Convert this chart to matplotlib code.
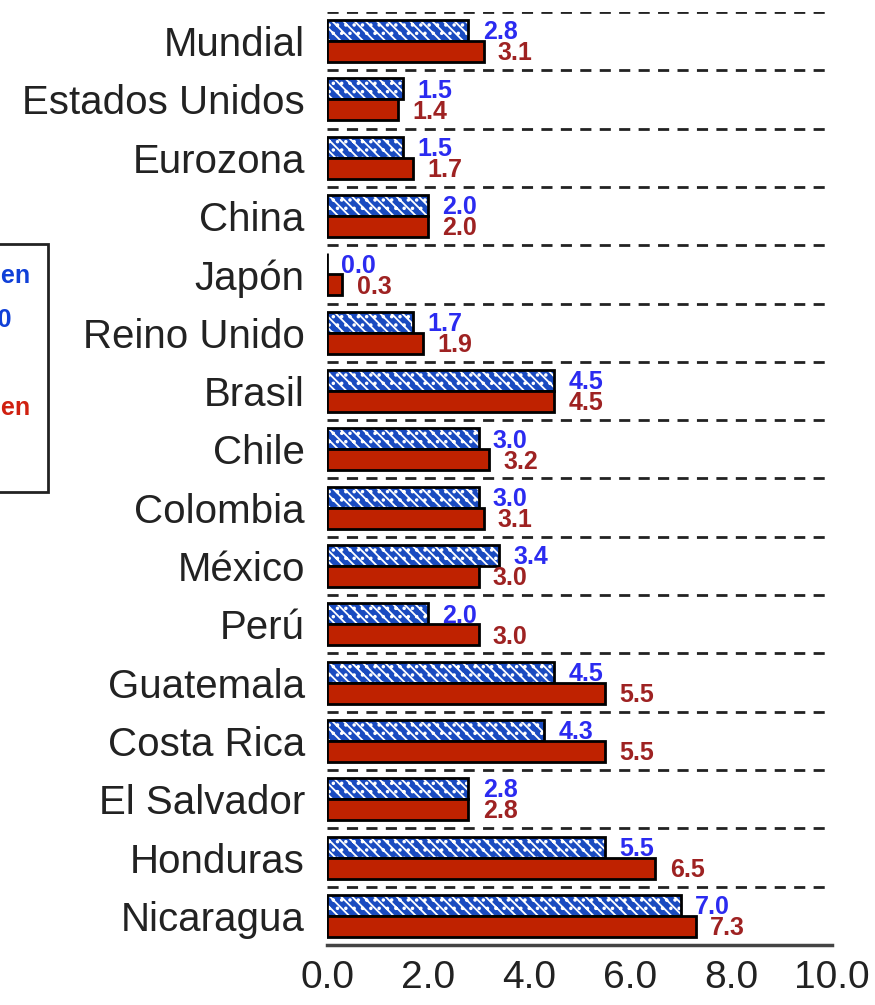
import numpy as np
import matplotlib.pyplot as plt

plt.rcParams['font.family'] = ['Liberation Sans', 'DejaVu Sans']
plt.rcParams['hatch.linewidth'] = 1.3

paises = ['Mundial', 'Estados Unidos', 'Eurozona', 'China', 'Japón', 'Reino Unido',
          'Brasil', 'Chile', 'Colombia', 'México', 'Perú', 'Guatemala',
          'Costa Rica', 'El Salvador', 'Honduras', 'Nicaragua']
serie_azul = [2.8, 1.5, 1.5, 2.0, 0.0, 1.7, 4.5, 3.0, 3.0, 3.4, 2.0, 4.5, 4.3, 2.8, 5.5, 7.0]
serie_roja = [3.1, 1.4, 1.7, 2.0, 0.3, 1.9, 4.5, 3.2, 3.1, 3.0, 3.0, 5.5, 5.5, 2.8, 6.5, 7.3]
xticks = [0, 2, 4, 6, 8, 10]

azul = '#1A4BC0'
rojo = '#BF2200'
txt_azul = '#2B2BF0'
txt_rojo = '#9E2222'

fig = plt.figure(figsize=(8.75, 10.05), dpi=100)
ax = fig.add_axes([327 / 875, 1 - 945 / 1005, 505 / 875, 933 / 1005])

n = len(paises)
y = np.arange(n) + 0.5
h = 0.36

# blue bars: hatched fill then black outline
ax.barh(y - h / 2, serie_azul, height=h, color=azul, edgecolor='white',
        hatch='\\\\\\..', linewidth=0, zorder=2)
ax.barh(y - h / 2, serie_azul, height=h, fill=False, edgecolor='black',
        linewidth=2, zorder=3)
ax.barh(y + h / 2, serie_roja, height=h, color=rojo, edgecolor='black',
        linewidth=2, zorder=3)

for i in range(n):
    ax.text(serie_azul[i] + 0.63, y[i] - h / 2 + 0.03, '{:.1f}'.format(serie_azul[i]),
            ha='center', va='center', color=txt_azul, fontsize=18, fontweight='bold', zorder=4)
    ax.text(serie_roja[i] + 0.63, y[i] + h / 2 + 0.03, '{:.1f}'.format(serie_roja[i]),
            ha='center', va='center', color=txt_rojo, fontsize=18, fontweight='bold', zorder=4)

# dashed separators
for k in range(n):
    ax.axhline(k, color='#222222', linestyle=(0, (4, 3)), linewidth=2, zorder=1)

ax.set_ylim(n, 0)
ax.set_xlim(0, 10)
ax.set_yticks(y)
ax.set_yticklabels(paises, fontsize=29, color='#222222')
ax.set_xticks(xticks)
ax.set_xticklabels(['{:.1f}'.format(v) for v in xticks], fontsize=28, color='#222222')
ax.tick_params(length=0)
ax.tick_params(axis='y', pad=16)
ax.tick_params(axis='x', pad=11)
for s in ['top', 'right', 'left']:
    ax.spines[s].set_visible(False)
ax.spines['bottom'].set_linewidth(2.5)
ax.spines['bottom'].set_color('#444444')

# legend box cut at the left edge
fig.patches.append(plt.Rectangle((-0.1, 1 - 492 / 1005), 0.1 + 48 / 875, 248 / 1005,
                                 transform=fig.transFigure, fill=False,
                                 edgecolor='#222222', linewidth=2))
fig.text(30 / 875, 1 - 276 / 1005, 'Proyección en', ha='right', va='center',
         color='#1040D8', fontsize=18, fontweight='bold')
fig.text(12 / 875, 1 - 320 / 1005, '2020', ha='right', va='center',
         color='#1040D8', fontsize=18, fontweight='bold')
fig.text(30 / 875, 1 - 408 / 1005, 'Proyección en', ha='right', va='center',
         color='#D02010', fontsize=18, fontweight='bold')

fig.savefig('out.png', dpi=100)
